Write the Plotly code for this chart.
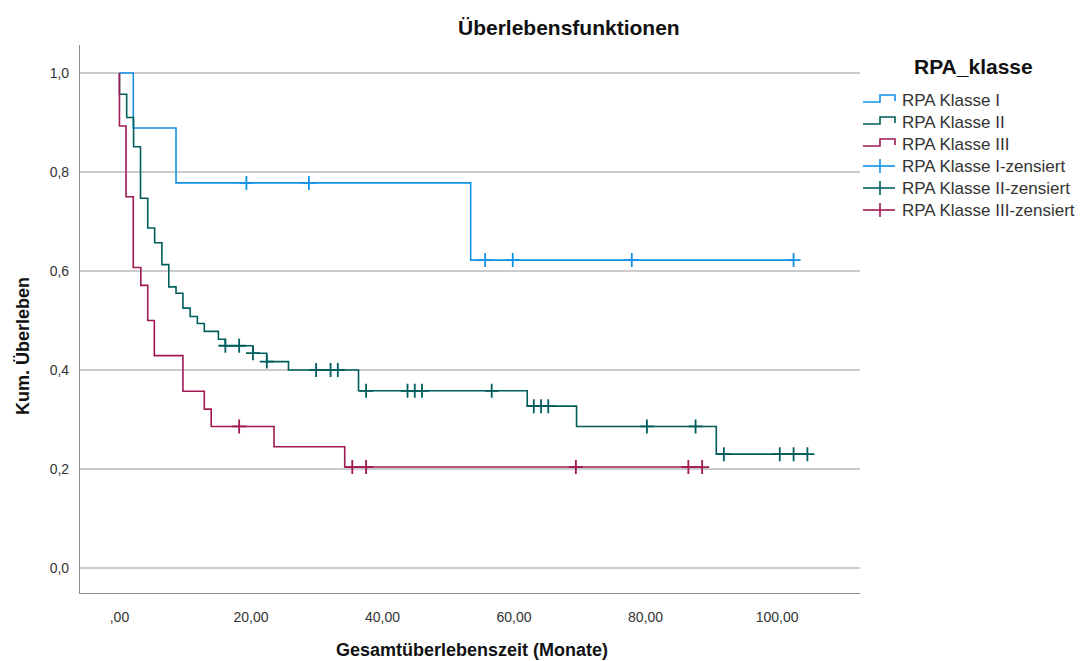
import numpy as np
import plotly.graph_objects as go

# Kaplan-Meier survival by RPA class: step times (months) and survival after each step
groups = ["RPA Klasse I", "RPA Klasse II", "RPA Klasse III"]
colors = ["#1192e8", "#005d5d", "#9f1853"]

k1_time = [0, 2.1, 8.6, 53.4]
k1_surv = [1.0, 0.889, 0.778, 0.622]
k1_cens = [19.3, 28.8, 55.6, 59.8, 77.9, 102.5]

k2_time = [0, 0, 1.1, 2.15, 3.2, 4.3, 5.35, 6.45, 7.5, 8.6, 9.65, 10.75, 11.85,
           12.9, 15.05, 16.1, 20.3, 22.4, 25.7, 36.35, 62.0, 69.5, 90.75]
k2_surv = [1.0, 0.957, 0.910, 0.851, 0.747, 0.687, 0.657, 0.613, 0.568, 0.555,
           0.525, 0.508, 0.494, 0.478, 0.462, 0.449, 0.434, 0.417, 0.400, 0.358,
           0.327, 0.286, 0.230]
k2_cens = [16.1, 18.2, 20.3, 22.4, 29.9, 32.1, 33.2, 37.5, 43.8, 44.9, 46.0,
           56.6, 63.0, 64.1, 65.2, 80.2, 87.6, 91.9, 100.4, 102.5, 104.6]

k3_time = [0, 0, 1.0, 2.1, 3.25, 4.3, 5.3, 9.65, 12.9, 13.95, 23.5, 34.25]
k3_surv = [1.0, 0.893, 0.750, 0.607, 0.571, 0.500, 0.429, 0.357, 0.321, 0.286,
           0.245, 0.204]
k3_cens = [18.2, 35.4, 37.5, 69.4, 86.5, 88.6]

x_ticks = [0, 20, 40, 60, 80, 100]
x_ticktext = [",00", "20,00", "40,00", "60,00", "80,00", "100,00"]
y_ticks = [0, 0.2, 0.4, 0.6, 0.8, 1.0]
y_ticktext = ["0,0", "0,2", "0,4", "0,6", "0,8", "1,0"]

series = [(k1_time, k1_surv, k1_cens), (k2_time, k2_surv, k2_cens),
          (k3_time, k3_surv, k3_cens)]

W, H = 1086, 661
L, R, T, B = 80, 860, 45, 593  # plot area in pixels


def xp(px):
    return (px - L) / (R - L)


def yp(py):
    return (B - py) / (B - T)


fig = go.Figure()
for name, col, (t, s, c) in zip(groups, colors, series):
    t = np.asarray(t, float)
    s = np.asarray(s, float)
    c = np.asarray(c, float)
    t_end = max(t[-1], c.max())
    fig.add_trace(go.Scatter(
        x=np.append(t, t_end), y=np.append(s, s[-1]), mode="lines",
        line=dict(color=col, width=1.6, shape="hv"), name=name,
        showlegend=False, hoverinfo="skip"))
    idx = np.searchsorted(t, c, side="right") - 1
    fig.add_trace(go.Scatter(
        x=c, y=s[idx], mode="markers",
        marker=dict(symbol="cross-thin", size=10, line=dict(color=col, width=1.8)),
        name=name + "-zensiert", showlegend=False, hoverinfo="skip"))

# legend drawn as shapes + text
shapes = []
annotations = []
leg_x0, leg_x1, leg_mid = 863, 895, 880
leg_rows = [100, 122, 144, 166, 188, 210]
labels = groups + [g + "-zensiert" for g in groups]
for i, (lab, row) in enumerate(zip(labels, leg_rows)):
    col = colors[i % 3]
    if i < 3:
        low, high = row + 2, row - 5
        path = (f"M {xp(leg_x0)},{yp(low)} L {xp(leg_mid)},{yp(low)} "
                f"L {xp(leg_mid)},{yp(high)} L {xp(leg_x1)},{yp(high)} "
                f"L {xp(leg_x1)},{yp(low - 1)}")
        shapes.append(dict(type="path", path=path, xref="paper", yref="paper",
                           line=dict(color=col, width=1.6)))
    else:
        shapes.append(dict(type="line", xref="paper", yref="paper",
                           x0=xp(leg_x0), x1=xp(leg_x1), y0=yp(row), y1=yp(row),
                           line=dict(color=col, width=1.6)))
        shapes.append(dict(type="line", xref="paper", yref="paper",
                           x0=xp(leg_mid), x1=xp(leg_mid), y0=yp(row - 7),
                           y1=yp(row + 7), line=dict(color=col, width=1.6)))
    annotations.append(dict(text=lab, x=xp(900), y=yp(row), xref="paper",
                            yref="paper", xanchor="left", yanchor="middle",
                            showarrow=False,
                            font=dict(size=17, color="#333333")))

annotations.append(dict(text="<b>RPA_klasse</b>", x=xp(973), y=yp(66),
                        xref="paper", yref="paper", xanchor="center",
                        yanchor="middle", showarrow=False,
                        font=dict(size=21, color="#111111")))
annotations.append(dict(text="<b>Überlebensfunktionen</b>", x=xp(569), y=yp(28),
                        xref="paper", yref="paper", xanchor="center",
                        yanchor="middle", showarrow=False,
                        font=dict(size=21, color="#111111")))
annotations.append(dict(text="<b>Gesamtüberlebenszeit (Monate)</b>", x=xp(472),
                        y=yp(650), xref="paper", yref="paper", xanchor="center",
                        yanchor="middle", showarrow=False,
                        font=dict(size=18, color="#111111")))
annotations.append(dict(text="<b>Kum. Überleben</b>", x=xp(23), y=yp(346),
                        xref="paper", yref="paper", xanchor="center",
                        yanchor="middle", showarrow=False, textangle=-90,
                        font=dict(size=18, color="#111111")))

fig.update_layout(
    width=W, height=H,
    margin=dict(l=L, r=W - R, t=T, b=H - B),
    paper_bgcolor="white", plot_bgcolor="white",
    font=dict(family="Liberation Sans, Arial, sans-serif", color="#333333"),
    shapes=shapes, annotations=annotations, showlegend=False,
    xaxis=dict(range=[-6.0, 112.6], tickvals=x_ticks, ticktext=x_ticktext,
               showgrid=False, zeroline=False, showline=True,
               linecolor="#8c8c8c", linewidth=1.2, ticks="",
               ticklabelstandoff=11, tickfont=dict(size=14, color="#333333")),
    yaxis=dict(range=[-0.0505, 1.0566], tickvals=y_ticks, ticktext=y_ticktext,
               showgrid=True, gridcolor="#cccccc", gridwidth=1.6,
               zeroline=False, showline=True, linecolor="#8c8c8c",
               linewidth=1.2, ticks="", ticklabelstandoff=7,
               tickfont=dict(size=14, color="#333333")),
)

fig.write_html("out.html")
